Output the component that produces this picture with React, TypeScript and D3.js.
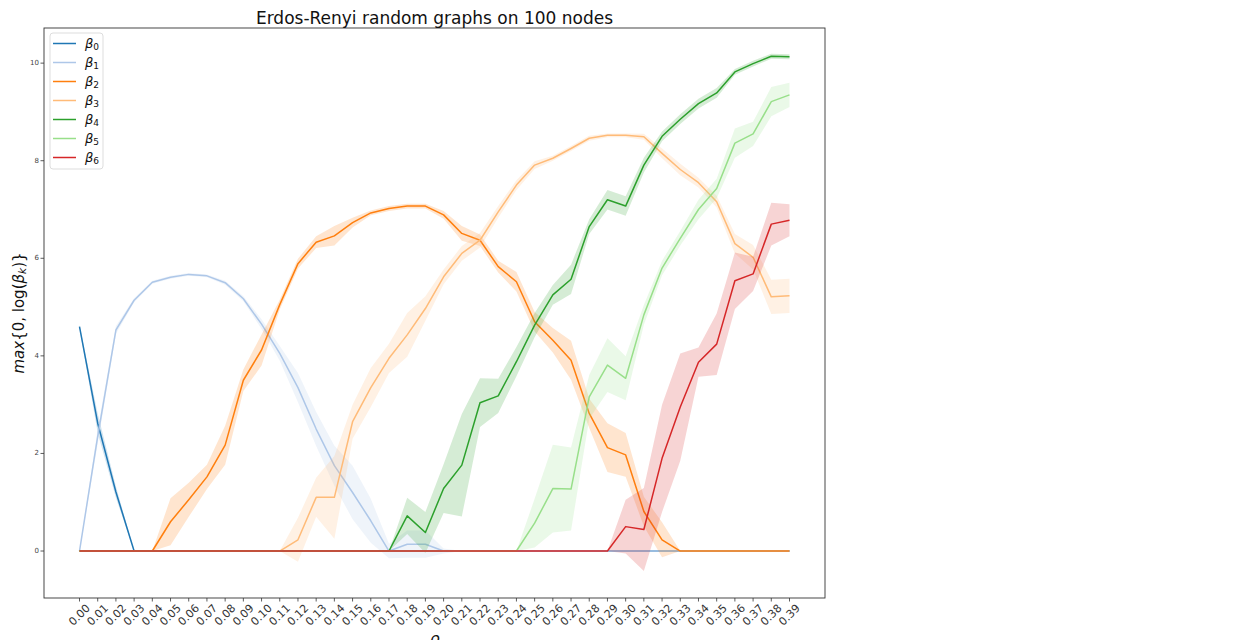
import React from "react";
import * as d3 from "d3";

const xLabels = [
  "0.00","0.01","0.02","0.03","0.04","0.05","0.06","0.07","0.08","0.09",
  "0.10","0.11","0.12","0.13","0.14","0.15","0.16","0.17","0.18","0.19",
  "0.20","0.21","0.22","0.23","0.24","0.25","0.26","0.27","0.28","0.29",
  "0.30","0.31","0.32","0.33","0.34","0.35","0.36","0.37","0.38","0.39",
];
const yTicks = [0, 2, 4, 6, 8, 10];

const z = (n: number) => new Array(n).fill(0);

const b0 = [4.6, 2.62, 1.21, ...z(37)];
const b1 = [0, 2.35, 4.53, 5.14, 5.51, 5.61, 5.67, 5.64, 5.5, 5.17, 4.65, 4.05, 3.35, 2.5, 1.75, 1.2, 0.62, 0, 0.14, 0.14, 0, ...z(19)];
const b2 = [...z(5), 0.6, 1.05, 1.52, 2.17, 3.5, 4.12, 5.05, 5.89, 6.33, 6.46, 6.73, 6.93, 7.02, 7.07, 7.07, 6.89, 6.51, 6.37, 5.83, 5.52, 4.7, 4.32, 3.91, 2.82, 2.12, 1.97, 0.81, 0.23, ...z(7)];
const b3 = [...z(12), 0.23, 1.1, 1.1, 2.65, 3.35, 3.95, 4.43, 4.97, 5.62, 6.1, 6.37, 6.95, 7.5, 7.91, 8.05, 8.25, 8.46, 8.52, 8.52, 8.49, 8.15, 7.82, 7.55, 7.16, 6.3, 6.02, 5.21, 5.23];
const b4 = [...z(18), 0.72, 0.38, 1.28, 1.76, 3.04, 3.18, 3.88, 4.63, 5.25, 5.57, 6.65, 7.2, 7.07, 7.91, 8.5, 8.85, 9.17, 9.39, 9.82, 9.99, 10.14, 10.13];
const b5 = [...z(25), 0.57, 1.28, 1.27, 3.16, 3.81, 3.54, 4.84, 5.8, 6.41, 7.0, 7.43, 8.36, 8.55, 9.21, 9.35];
const b6 = [...z(30), 0.5, 0.44, 1.9, 2.95, 3.87, 4.24, 5.54, 5.68, 6.7, 6.78];

// confidence band half-widths
const c0 = [0.03, 0.2, 0.12, ...z(37)];
const c1 = [0, 0.15, 0.08, 0.04, 0.03, 0.03, 0.03, 0.03, 0.04, 0.05, 0.1, 0.15, 0.3, 0.35, 0.41, 0.55, 0.45, 0.15, 0.28, 0.28, 0.05, ...z(19)];
const c2 = [...z(5), 0.48, 0.35, 0.25, 0.4, 0.22, 0.32, 0.1, 0.1, 0.12, 0.2, 0.1, 0.05, 0.05, 0.05, 0.05, 0.08, 0.15, 0.12, 0.12, 0.2, 0.2, 0.25, 0.4, 0.3, 0.5, 0.45, 0.3, 0.36, ...z(7)];
const c3 = [...z(12), 0.45, 0.4, 0.85, 0.35, 0.4, 0.3, 0.45, 0.25, 0.15, 0.15, 0.15, 0.12, 0.1, 0.08, 0.05, 0.05, 0.05, 0.04, 0.04, 0.06, 0.1, 0.12, 0.1, 0.12, 0.2, 0.25, 0.35, 0.35];
const c4 = [...z(18), 0.37, 0.42, 0.5, 1.05, 0.5, 0.35, 0.3, 0.25, 0.2, 0.3, 0.15, 0.2, 0.2, 0.15, 0.1, 0.1, 0.1, 0.1, 0.06, 0.06, 0.05, 0.05];
const c5 = [...z(25), 0.5, 0.9, 0.85, 0.45, 0.55, 0.45, 0.2, 0.15, 0.15, 0.2, 0.2, 0.3, 0.25, 0.3, 0.25];
const c6 = [...z(30), 0.55, 0.85, 1.1, 1.1, 0.3, 0.63, 0.58, 0.35, 0.44, 0.33];

const seriesNames = ["0", "1", "2", "3", "4", "5", "6"];
const seriesColors = ["#1f77b4", "#aec7e8", "#ff7f0e", "#ffbb78", "#2ca02c", "#98df8a", "#d62728"];
const means = [b0, b1, b2, b3, b4, b5, b6];
const cis = [c0, c1, c2, c3, c4, c5, c6];

const W = 1243;
const H = 640;
const plot = { left: 44, right: 825, top: 28, bottom: 598 };
const FONT = "DejaVu Sans, sans-serif";

export default function App() {
  const x = d3.scaleLinear().domain([-1.95, 40.95]).range([plot.left, plot.right]);
  const y = d3.scaleLinear().domain([-0.963, 10.72]).range([plot.bottom, plot.top]);
  const idx = d3.range(xLabels.length);

  const line = (vals: number[]) =>
    d3.line<number>().x((i) => x(i)).y((i) => y(vals[i]))(idx) || "";
  const area = (vals: number[], ci: number[]) =>
    d3
      .area<number>()
      .x((i) => x(i))
      .y0((i) => y(vals[i] - ci[i]))
      .y1((i) => y(vals[i] + ci[i]))(idx) || "";

  const legendRowY = (k: number) => 43.5 + k * 19;

  return (
    <svg width={W} height={H} style={{ position: "absolute", left: 0, top: 0, background: "#fff" }} fontFamily={FONT}>
      <rect x={0} y={0} width={W} height={H} fill="#fff" />
      <defs>
        <clipPath id="plotclip">
          <rect x={plot.left} y={plot.top} width={plot.right - plot.left} height={plot.bottom - plot.top} />
        </clipPath>
      </defs>
      <g clipPath="url(#plotclip)">
        {means.map((vals, s) => (
          <g key={s}>
            <path d={area(vals, cis[s])} fill={seriesColors[s]} fillOpacity={0.2} stroke="none" />
            <path d={line(vals)} fill="none" stroke={seriesColors[s]} strokeWidth={1.5} strokeLinejoin="round" />
          </g>
        ))}
      </g>
      {/* spines */}
      <rect x={plot.left} y={plot.top} width={plot.right - plot.left} height={plot.bottom - plot.top} fill="none" stroke="#333" strokeWidth={0.9} />
      {/* y ticks */}
      {yTicks.map((t) => (
        <g key={t}>
          <line x1={plot.left - 3.5} x2={plot.left} y1={y(t)} y2={y(t)} stroke="#333" strokeWidth={0.8} />
          <text x={plot.left - 5} y={y(t)} fontSize={7} fill="#444" textAnchor="end" dominantBaseline="central">
            {t}
          </text>
        </g>
      ))}
      {/* x ticks */}
      {xLabels.map((lab, i) => (
        <g key={lab}>
          <line x1={x(i)} x2={x(i)} y1={plot.bottom} y2={plot.bottom + 3.5} stroke="#333" strokeWidth={0.8} />
          <text
            transform={`translate(${x(i)},${plot.bottom + 17}) rotate(-45)`}
            fontSize={11}
            fill="#333"
            textAnchor="middle"
            dominantBaseline="central"
          >
            {lab}
          </text>
        </g>
      ))}
      {/* title */}
      <text x={(plot.left + plot.right) / 2} y={24} fontSize={17} textAnchor="middle" fill="#111">
        Erdos-Renyi random graphs on 100 nodes
      </text>
      {/* x label */}
      <text x={(plot.left + plot.right) / 2} y={644} fontSize={16} fontStyle="italic" textAnchor="middle" fill="#111">
        ρ
      </text>
      {/* y label */}
      <text
        transform={`translate(19,${(plot.top + plot.bottom) / 2}) rotate(-90)`}
        fontSize={15}
        textAnchor="middle"
        dominantBaseline="central"
        fill="#111"
      >
        <tspan fontStyle="italic">max</tspan>
        <tspan>{"{0, log("}</tspan>
        <tspan fontStyle="italic">β</tspan>
        <tspan fontStyle="italic" fontSize={10.5} dy={3}>k</tspan>
        <tspan dy={-3}>{")}"}</tspan>
      </text>
      {/* legend */}
      <rect x={50} y={33} width={53} height={136} rx={3} fill="#fff" fillOpacity={0.8} stroke="#d9d9d9" strokeWidth={0.9} />
      {seriesNames.map((n, k) => (
        <g key={n}>
          <line x1={53} x2={76} y1={legendRowY(k)} y2={legendRowY(k)} stroke={seriesColors[k]} strokeWidth={1.5} />
          <text x={85} y={legendRowY(k) + 4} fontSize={13} fill="#111">
            <tspan fontStyle="italic">β</tspan>
            <tspan fontSize={9} dy={2.5}>{n}</tspan>
          </text>
        </g>
      ))}
    </svg>
  );
}
